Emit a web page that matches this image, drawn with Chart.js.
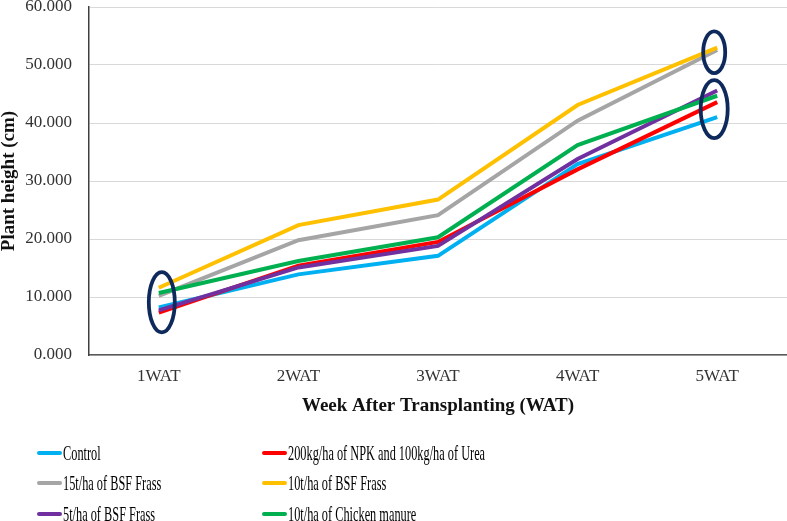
<!DOCTYPE html>
<html>
<head>
<meta charset="utf-8">
<script src="https://cdn.jsdelivr.net/npm/chart.js@4.4.0/dist/chart.umd.min.js"></script>
<style>
  html, body { margin: 0; padding: 0; background: #fff; }
  #wrap { position: relative; width: 787px; height: 521px; }
  #legend { position: absolute; left: 0; top: 0; width: 787px; height: 521px; pointer-events: none;
            font-family: "Liberation Serif", "Times New Roman", serif; font-size: 22px; color: #000; }
  .item { position: absolute; display: flex; align-items: center; white-space: nowrap; height: 24px; }
  .swatch { width: 25px; height: 4px; border-radius: 2px; margin-right: 1px; flex: none; }
  .lbl { display: inline-block; transform: scaleX(0.56); transform-origin: left center; line-height: 24px; }
</style>
</head>
<body>
<div id="wrap">
  <canvas id="growth" width="787" height="521"></canvas>
  <div id="legend"></div>
</div>
<script>
const weeks = ['1WAT', '2WAT', '3WAT', '4WAT', '5WAT'];

const control  = [8.2, 13.9, 17.1, 32.9, 41.0];
const npkUrea  = [7.3, 15.4, 19.5, 32.0, 43.6];
const bsf15    = [10.2, 19.8, 24.1, 40.4, 52.6];
const bsf10    = [11.6, 22.4, 26.8, 43.1, 53.0];
const bsf5     = [7.7, 15.1, 18.8, 33.8, 45.6];
const chicken  = [10.7, 16.2, 20.3, 36.2, 44.7];

const yTicks = [0, 10, 20, 30, 40, 50, 60];

// circled groups, in data units (category index, centre value, half height)
const circles = [
  {week: 0, mid: 9.1, half: 5.2, dx: 3, rx: 13},
  {week: 4, mid: 52.2, half: 3.6, dx: -3, rx: 11},
  {week: 4, mid: 42.4, half: 5.0, dx: -3, rx: 13.5},
];

const serif = '"Liberation Serif", "Times New Roman", serif';

const series = [
  {label: 'Control', data: control, color: '#00B0F0'},
  {label: '200kg/ha of NPK and 100kg/ha of Urea', data: npkUrea, color: '#FF0000'},
  {label: '15t/ha of BSF Frass', data: bsf15, color: '#A5A5A5'},
  {label: '10t/ha of BSF Frass', data: bsf10, color: '#FFC000'},
  {label: '5t/ha of BSF Frass', data: bsf5, color: '#7030A0'},
  {label: '10t/ha of Chicken manure', data: chicken, color: '#00B050'},
];

const ellipsePlugin = {
  id: 'ellipses',
  afterDatasetsDraw(chart) {
    const ctx = chart.ctx;
    const x = chart.scales.x, y = chart.scales.y;
    ctx.save();
    ctx.strokeStyle = '#0E2A5C';
    ctx.lineWidth = 3.8;
    circles.forEach(c => {
      const cx = x.getPixelForValue(c.week) + c.dx;
      const cy = y.getPixelForValue(c.mid);
      const ry = Math.abs(y.getPixelForValue(c.mid + c.half) - cy);
      ctx.beginPath();
      ctx.ellipse(cx, cy, c.rx, ry, 0, 0, Math.PI * 2);
      ctx.stroke();
    });
    ctx.restore();
  }
};

var ctx = document.getElementById('growth').getContext('2d');
var myChart = new Chart(ctx, {
  type: 'line',
  data: {
    labels: weeks,
    datasets: series.map((s, i) => ({
      label: s.label,
      data: s.data,
      borderColor: s.color,
      backgroundColor: s.color,
      borderWidth: 4,
      pointRadius: 0,
      tension: 0,
      order: series.length - i,
    }))
  },
  options: {
    responsive: false,
    animation: false,
    devicePixelRatio: 1,
    layout: {padding: {top: 7, right: 0, left: 0, bottom: 0}},
    plugins: {
      legend: {display: false},
      tooltip: {enabled: false}
    },
    scales: {
      x: {
        offset: true,
        grid: {display: false, drawTicks: false},
        border: {display: true, color: '#595959', width: 1.5},
        ticks: {
          color: '#333333',
          padding: 11,
          font: {family: serif, size: 17}
        },
        title: {
          display: true,
          text: 'Week After Transplanting (WAT)',
          color: '#111111',
          font: {family: serif, size: 19, weight: 'bold'},
          padding: {top: 0, bottom: 104}
        },
        afterFit: scale => { scale.height = 166; }
      },
      y: {
        min: 0,
        max: 60,
        afterBuildTicks: scale => { scale.ticks = yTicks.map(v => ({value: v})); },
        grid: {color: '#d9d9d9', lineWidth: 1, drawTicks: false},
        border: {display: true, color: '#404040', width: 1.5},
        ticks: {
          color: '#333333',
          padding: 17,
          font: {family: serif, size: 17},
          callback: v => Number(v).toFixed(3)
        },
        title: {
          display: true,
          text: 'Plant height (cm)',
          color: '#111111',
          font: {family: serif, size: 19, weight: 'bold', lineHeight: 1},
          padding: {top: 0, bottom: 0}
        },
        afterFit: scale => { scale.width = 89; scale.paddingTop = 0; scale.paddingBottom = 0; }
      }
    }
  },
  plugins: [ellipsePlugin]
});

// legend in two columns, like the original
const legendBox = document.getElementById('legend');
const colLeft = [37, 262];
const rowMid = [453, 483, 514];
myChart.data.datasets.forEach((ds, i) => {
  const item = document.createElement('div');
  item.className = 'item';
  item.style.left = colLeft[i % 2] + 'px';
  item.style.top = (rowMid[Math.floor(i / 2)] - 12) + 'px';
  const sw = document.createElement('span');
  sw.className = 'swatch';
  sw.style.background = ds.borderColor;
  const tx = document.createElement('span');
  tx.className = 'lbl';
  tx.textContent = ds.label;
  item.appendChild(sw);
  item.appendChild(tx);
  legendBox.appendChild(item);
});
</script>
</body>
</html>
